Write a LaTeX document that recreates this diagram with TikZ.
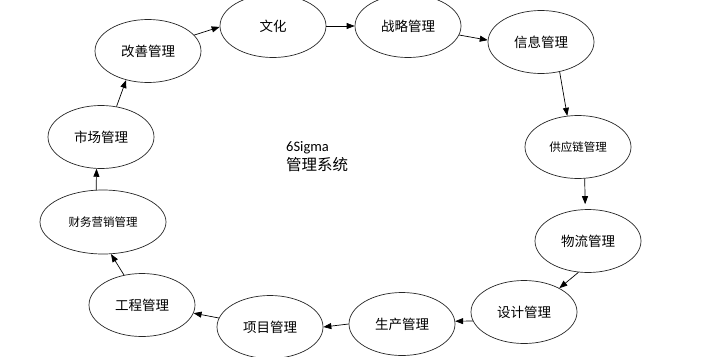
\documentclass[tikz,border=0pt]{standalone}
\usepackage{fontspec}
\setmainfont{Noto Sans CJK SC}
\newfontfamily\latinfont{Carlito}
\usetikzlibrary{arrows.meta,shapes.geometric}
\begin{document}
\begin{tikzpicture}[x=1pt,y=-1pt,
  stage/.style={ellipse,draw=black!85,line width=0.7pt,minimum width=106pt,minimum height=63pt,inner sep=0pt,font=\fontsize{13.5}{15}\selectfont},
  small/.style={font=\fontsize{11.5}{13}\selectfont},
  flow/.style={line width=0.7pt,-{Triangle[length=8pt,width=6pt]}}]
\useasboundingbox (0,0) rectangle (701,356);
\begin{scope}
\clip (0,0) rectangle (701,356);
\node[stage] (gs) at (148,51) {改善管理};
\node[stage] (wh) at (273,26) {文化};
\node[stage] (zl) at (408,26) {战略管理};
\node[stage] (xx) at (541,42) {信息管理};
\node[stage,small] (gy) at (578,147) {供应链管理};
\node[stage] (wl) at (588,241) {物流管理};
\node[stage] (sj) at (524,312) {设计管理};
\node[stage] (sc) at (402,324) {生产管理};
\node[stage] (xm) at (270,327) {项目管理};
\node[stage] (gc) at (142,305) {工程管理};
\node[stage,small,minimum width=126pt,minimum height=64pt] (cw) at (103,222) {财务营销管理};
\node[stage] (sh) at (101,137) {市场管理};
\end{scope}
\node[anchor=west,inner sep=0pt,font=\latinfont\fontsize{14.5}{16}\selectfont] (t1) at (286,148) {6Sigma};
\node[anchor=west,inner sep=0pt,font=\fontsize{15.5}{17}\selectfont] (t2) at (286,165) {管理系统};
\draw[flow] (gs.19) -- (wh.181);
\draw[flow] (wh.east) -- (zl.west);
\draw[flow] (zl.-10) -- (xx.178);
\draw[flow] (xx.-58) -- (gy.109);
\draw[flow,shorten >=5pt] (gy.-78) -- (wl.95);
\draw[flow] (wl.-107) -- (sj.34);
\draw[flow] (sj.190) -- (sc.3);
\draw[flow] (sc.west) -- (xm.east);
\draw[flow] (xm.170) -- (gc.-9);
\draw[flow] (gc.121) -- (cw.-76);
\draw[flow] (cw.102) -- (sh.-98);
\draw[flow] (sh.63) -- (gs.-127);
\end{tikzpicture}
\end{document}
